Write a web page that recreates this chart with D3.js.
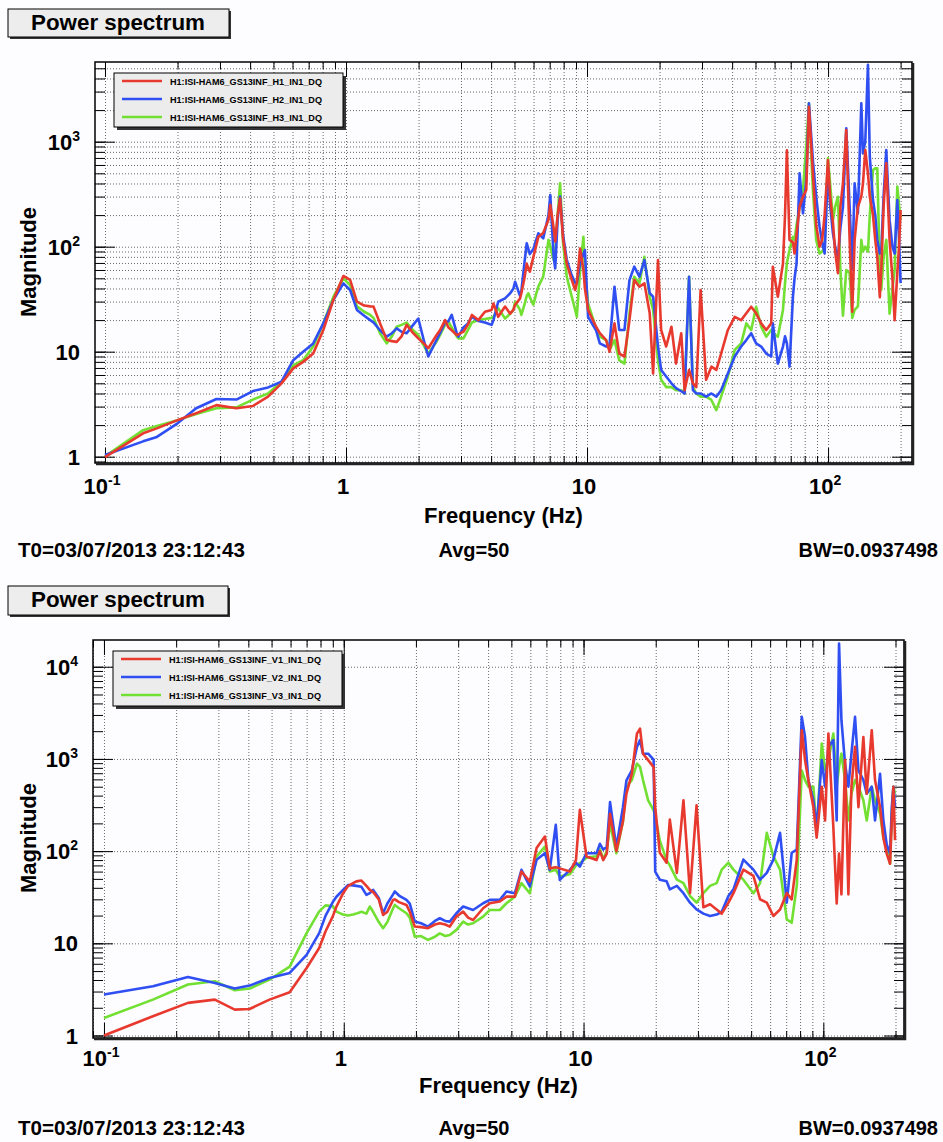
<!DOCTYPE html>
<html>
<head>
<meta charset="utf-8">
<script src="https://cdn.jsdelivr.net/npm/d3@7"></script>
<style>
body { margin: 0; background: #fdfcfe; }
text { font-family: "Liberation Sans", Arial, Helvetica, sans-serif; font-weight: bold; }
</style>
</head>
<body>
<div id="chart"></div>
<script>
// ---- top panel: horizontal GS13 channels ----
var hFreq = [
  0.1, 0.144, 0.163, 0.2, 0.239, 0.29, 0.351, 0.411, 0.475, 0.54,
  0.604, 0.664, 0.731, 0.805, 0.886, 0.975, 1.04, 1.11, 1.19, 1.26,
  1.3, 1.384, 1.475, 1.55, 1.623, 1.7, 1.785, 1.9, 1.995, 2.1,
  2.195, 2.377, 2.455, 2.577, 2.66, 2.745, 2.88, 2.925, 3.07, 3.2,
  3.33, 3.54, 3.77, 4.02, 4.09, 4.28, 4.57, 4.8, 4.95, 5.03,
  5.27, 5.34, 5.5, 5.62, 5.71, 5.79, 5.99, 6.14, 6.28, 6.58,
  6.92, 7.04, 7.27, 7.38, 7.55, 7.73, 7.95, 8.24, 8.6, 8.93,
  9.07, 9.36, 9.66, 9.8, 10.1, 10.9, 11.3, 12.0, 12.4, 13.0,
  13.6, 14.3, 15.0, 15.7, 16.5, 17.3, 18.2, 18.8, 19.7, 20.3,
  21.3, 22.4, 23.4, 24.6, 25.4, 26.5, 27.5, 28.4, 29.6, 31.2,
  32.8, 34.4, 36.0, 38.4, 41.0, 43.6, 45.8, 48.0, 50.3, 52.8,
  55.4, 58.1, 59.0, 61.9, 65.0, 66.3, 67.5, 69.2, 71.5, 72.6,
  74.0, 76.2, 78.7, 81.2, 83.3, 86.5, 89.3, 92.2, 94.5, 96.8,
  99.9, 102, 104.8, 107, 109.9, 112.5, 115.3, 119.0, 122.9, 126.0,
  128.9, 133.0, 137.4, 139.6, 142.7, 146.4, 149.0, 153.6, 157.0, 160.0,
  164.0, 166.3, 170.0, 174.4, 180.0, 185.0, 188.9, 193.8, 197.0, 200.0
];
var hCh1 = [
  0.99, 1.67, 1.85, 2.23, 2.59, 3.1, 2.89, 3.04, 3.73, 4.99,
  6.94, 8.0, 9.6, 16.1, 31, 52.6, 48.2, 30, 27.5, 27,
  26.9, 18.6, 13, 12.6, 12.4, 14, 18, 15, 13.4, 12,
  10.8, 14.4, 16, 20, 17, 16, 14.4, 14.6, 15.5, 18,
  22.4, 20, 24, 25, 28.8, 21.5, 26.9, 23, 25, 28,
  32, 36, 50, 69, 62, 57.8, 80, 100, 124, 135,
  180, 250, 150, 112, 200, 288, 120, 69, 50, 38.7,
  45, 96, 60, 40, 25, 17.3, 15, 12.9, 10, 18.6,
  9.6, 9.0, 20, 48, 41.6, 44.8, 23.2, 6.2, 74.6, 16.1,
  11.2, 17.3, 7.7, 15, 4.3, 6.7, 5.0, 4.6, 38.7, 5.4,
  7.2, 6.7, 9.6, 16.1, 21.5, 20, 23.2, 26.8, 23.2, 18.6,
  16.1, 18.6, 64.5, 33.4, 69, 200, 830, 116, 110, 86,
  130, 240, 300, 347, 2150, 499, 160, 100, 116, 200,
  669, 300, 170, 90, 56, 240, 400, 1290, 116, 24,
  116, 240, 300, 400, 833, 500, 300, 200, 116, 80,
  33, 60, 240, 622, 116, 50, 20, 56, 100, 223
];
var hCh2 = [
  1.04, 1.40, 1.53, 2.08, 2.89, 3.54, 3.5, 4.22, 4.57, 5.18,
  8.3, 10.0, 12.0, 18.6, 31, 44.8, 38.7, 25, 22, 20,
  19, 16, 13.9, 15, 16.7, 15.5, 15, 18, 20.7, 13,
  9.0, 13, 15, 19, 19.5, 22.4, 15, 13.9, 17, 18.5,
  21.5, 19.6, 19, 18, 20, 29.9, 32.2, 36, 40, 46.4,
  34, 38, 70, 108, 95, 85, 95, 115, 134, 120,
  200, 310, 80, 62, 180, 300, 130, 75, 55, 45,
  44.8, 70, 85, 93, 21.5, 16, 12, 11.2, 11.6, 41.6,
  16.1, 16.1, 48, 64.5, 51.8, 74.6, 36, 33.4, 11.2, 6.7,
  5.8, 5.0, 4.5, 4.2, 4.0, 51.8, 4.3, 4.0, 4.0, 3.73,
  4.0, 3.73, 4.3, 6.2, 9.0, 11.2, 12.9, 15, 12, 11.2,
  9.6, 9.0, 18.6, 7.7, 11.2, 14, 12, 7.2, 33.4, 50,
  69, 499, 208, 431, 2320, 669, 299, 155, 110, 86,
  557, 250, 134, 100, 75, 150, 240, 1340, 240, 60,
  401, 208, 2320, 774, 1000, 5400, 720, 278, 200, 116,
  86, 90, 300, 833, 179, 100, 86, 278, 120, 45
];
var hCh3 = [
  1.01, 1.79, 1.95, 2.23, 2.55, 2.89, 2.95, 3.5, 4.0, 5.18,
  7.4, 8.3, 11.2, 18.6, 33.3, 50, 43, 27, 24, 22.4,
  21, 15, 12, 14, 17.3, 18, 18.9, 16, 14.4, 11.5,
  9.6, 12.5, 14.4, 18, 19.3, 17, 14, 13.4, 13.4, 16,
  19, 20, 20.5, 21, 21.5, 26, 20.7, 23, 25, 29.9,
  25, 22.4, 28, 34, 36, 33, 28, 35, 41.6, 51.8,
  116, 100, 75, 90, 200, 401, 110, 51.8, 35, 25,
  21.5, 60, 124, 60, 28.8, 16.7, 13.9, 12.9, 10.4, 12.9,
  8.3, 7.7, 23, 51.8, 44.8, 80, 33.4, 25, 8.3, 5.4,
  4.6, 4.6, 4.3, 4.3, 4.0, 51.8, 4.6, 4.0, 3.73, 3.73,
  3.47, 2.78, 3.73, 5.8, 10.4, 12, 18.6, 16.1, 26.8, 17.3,
  13.9, 16.1, 15, 13.9, 25, 45, 70, 93, 124, 116,
  160, 240, 347, 896, 2320, 347, 116, 86, 90, 100,
  694, 400, 179, 240, 299, 60, 22, 60, 56, 21,
  25, 27, 116, 90, 100, 90, 200, 537, 557, 557,
  60, 39, 80, 116, 23, 40, 60, 373, 250, 179
];
var hNames = ["H1:ISI-HAM6_GS13INF_H1_IN1_DQ", "H1:ISI-HAM6_GS13INF_H2_IN1_DQ", "H1:ISI-HAM6_GS13INF_H3_IN1_DQ"];

// ---- bottom panel: vertical GS13 channels ----
var vFreq = [
  0.1, 0.16, 0.224, 0.29, 0.351, 0.405, 0.49, 0.595, 0.70, 0.79,
  0.84, 0.90, 0.932, 0.994, 1.043, 1.094, 1.129, 1.185, 1.243, 1.284,
  1.326, 1.40, 1.459, 1.52, 1.606, 1.633, 1.7, 1.826, 1.885, 1.978,
  2.1, 2.247, 2.4, 2.515, 2.65, 2.768, 2.951, 3.147, 3.3, 3.463,
  3.813, 4.065, 4.475, 4.772, 5.17, 5.51, 5.97, 6.37, 6.9, 7.23,
  7.66, 7.96, 8.77, 9.3, 9.65, 10.29, 11.33, 11.7, 12.08, 12.5,
  12.9, 13.7, 14.6, 15.1, 15.9, 16.7, 17.2, 17.7, 18.6, 19.6,
  19.9, 20.8, 22.2, 22.9, 24.5, 26.1, 27.8, 29.6, 31.6, 33.7,
  35.9, 37.7, 40.2, 42.2, 46.4, 51.1, 54.5, 58.1, 61.9, 66.0,
  70.4, 73.8, 77.5, 81.3, 83.9, 86.6, 90.9, 93.8, 98.5, 101.7,
  105, 110.1, 113.7, 116.3, 119.0, 123.2, 127.2, 131.0, 135.6, 140.1,
  146.9, 151.7, 159.2, 164.3, 172.4, 178.0, 183.8, 189.8, 193.0, 196.0,
  199.1
];
var vCh1 = [
  1.0, 1.62, 2.26, 2.45, 1.91, 1.94, 2.45, 2.95, 5.4, 8.9,
  13.5, 19.6, 25, 35, 42, 45, 47, 48, 42, 38,
  36, 30, 20.3, 22, 29.6, 30, 28, 26.1, 22, 15.2,
  15, 14.6, 16, 16.5, 16, 15.2, 19.5, 22.1, 19, 17.9,
  24, 27.2, 28.4, 32.1, 32.1, 60.1, 46.8, 108, 144, 65,
  67, 65, 60, 80, 281, 87.5, 80, 100, 80, 94,
  254, 100, 210, 420, 690, 1880, 2130, 1140, 970, 815,
  300, 96, 75, 220, 58, 355, 35, 314, 24.6, 26.5,
  23.3, 21, 27.6, 35, 63, 54, 30, 27.6, 19.8, 23.3,
  35, 30, 81, 2050, 970, 590, 300, 140, 500, 215,
  1890, 182, 27, 94, 34, 970, 34, 500, 1350, 300,
  1730, 420, 2050, 590, 300, 140, 94, 73, 215, 500,
  131
];
var vCh2 = [
  2.78, 3.42, 4.32, 3.72, 3.23, 3.48, 4.2, 4.77, 7.5, 12.9,
  20, 28, 32, 38, 43, 42.5, 42, 41, 33.5, 35,
  38, 31, 21.2, 27, 34, 36.5, 33, 29.6, 27, 17.2,
  16.5, 15.2, 17.5, 18.7, 17.5, 17.2, 21.2, 25.1, 24, 23,
  27.2, 29.6, 29.6, 36.5, 34.9, 62.7, 41.3, 80.5, 95, 62.7,
  193, 48.8, 62.7, 75, 68, 95, 95, 120, 104, 111,
  340, 110, 300, 585, 750, 1350, 1600, 1140, 1140, 980,
  60, 49, 47, 38.5, 42, 35, 27.6, 23.3, 21, 19.8,
  20.5, 22, 32.6, 38.5, 81, 63, 49, 58, 81, 158,
  27.6, 96, 104, 2860, 1730, 590, 356, 182, 970, 500,
  1350, 1600, 215, 17900, 2630, 890, 500, 1140, 2860, 750,
  590, 420, 500, 215, 690, 215, 118, 94, 300, 500,
  300
];
var vCh3 = [
  1.55, 2.45, 3.57, 3.88, 3.1, 3.23, 4.04, 5.6, 12.9, 22.2,
  25.8, 25.2, 22.1, 20.5, 20, 20.5, 21, 22, 21, 25.1,
  22, 17, 14.6, 17, 24, 26.1, 24, 21.2, 19, 11.8,
  12, 10.9, 11.8, 12.8, 12, 12.3, 14, 17.2, 16, 16.5,
  19.5, 23, 23, 27.2, 32.1, 44.9, 34.9, 87.5, 112, 60,
  62.7, 53, 56, 70, 74, 85, 88, 105, 82, 100,
  200, 95, 210, 505, 590, 890, 820, 590, 355, 277,
  240, 130, 80, 70, 49, 45, 32.6, 27.6, 35, 42,
  45, 63, 75, 63, 49, 35, 45, 158, 88, 63,
  18.2, 16.7, 42, 750, 590, 500, 500, 154, 1470, 750,
  970, 1890, 500, 820, 1140, 590, 215, 420, 590, 500,
  356, 215, 500, 356, 255, 140, 110, 73, 255, 500,
  420
];
var vNames = ["H1:ISI-HAM6_GS13INF_V1_IN1_DQ", "H1:ISI-HAM6_GS13INF_V2_IN1_DQ", "H1:ISI-HAM6_GS13INF_V3_IN1_DQ"];

var lineColors = ["#e8392f", "#2f4ff2", "#72e032"];
var xTickLabels = [[0.1, "10", "-1"], [1, "1", ""], [10, "10", ""], [100, "10", "2"]];
var yTickLabelsTop = [[1, "1", ""], [10, "10", ""], [100, "10", "2"], [1000, "10", "3"]];
var yTickLabelsBot = [[1, "1", ""], [10, "10", ""], [100, "10", "2"], [1000, "10", "3"], [10000, "10", "4"]];
var footerTexts = ["T0=03/07/2013 23:12:43", "Avg=50", "BW=0.0937498"];

var W = 943, H = 1142;

var svg = d3.select("#chart").append("svg")
  .attr("width", W)
  .attr("height", H);

svg.append("rect").attr("width", W).attr("height", H).attr("fill", "#fdfcfe");

// 1..9 x 10^k inside a domain (for grid + minor ticks)
function logSteps(dom, majorOnly) {
  var out = [];
  for (var k = -2; k <= 5; k++) {
    for (var m = 1; m <= 9; m++) {
      if (majorOnly && m > 1) continue;
      var v = m * Math.pow(10, k);
      if (v >= dom[0] && v <= dom[1]) out.push(+v.toPrecision(3));
    }
  }
  return out;
}

function addLabel(g, x, y, base, sup, anchor) {
  var t = g.append("text")
    .attr("x", x).attr("y", y)
    .attr("text-anchor", anchor)
    .attr("font-size", 22)
    .attr("fill", "#000");
  t.append("tspan").text(base);
  if (sup) {
    t.append("tspan").attr("dy", -9).attr("font-size", 14).text(sup);
  }
}

function drawPanel(p, id) {
  var g = svg.append("g");
  var x = d3.scaleLog().domain(p.xDom).range([p.x0, p.x1]);
  var y = d3.scaleLog().domain(p.yDom).range([p.y1, p.y0]);
  var w = p.x1 - p.x0, h = p.y1 - p.y0;

  // title box
  g.append("rect").attr("x", p.title[0] + 2).attr("y", p.title[1] + 2)
    .attr("width", p.title[2]).attr("height", p.title[3]).attr("fill", "#333");
  g.append("rect").attr("x", p.title[0]).attr("y", p.title[1])
    .attr("width", p.title[2]).attr("height", p.title[3])
    .attr("fill", "#ededed").attr("stroke", "#000").attr("stroke-width", 1);
  g.append("text").attr("x", p.title[0] + 23).attr("y", p.title[1] + 21)
    .attr("font-size", 22).attr("textLength", 174).attr("lengthAdjust", "spacingAndGlyphs")
    .text("Power spectrum");

  // grid
  var gx = g.append("g").attr("transform", "translate(0," + p.y1 + ")")
    .call(d3.axisBottom(x).tickValues(logSteps(p.xDom, false)).tickSize(-h).tickFormat(""));
  var gy = g.append("g").attr("transform", "translate(" + p.x0 + ",0)")
    .call(d3.axisLeft(y).tickValues(logSteps(p.yDom, !p.yMinorGrid)).tickSize(-w).tickFormat(""));
  [gx, gy].forEach(function(a) {
    a.select(".domain").remove();
    a.selectAll("line").attr("stroke", "#6a6a6a").attr("stroke-width", 1).attr("stroke-dasharray", "1,2");
  });

  // ticks on all four sides
  var xMaj = logSteps(p.xDom, true), xAll = logSteps(p.xDom, false);
  var yMaj = logSteps(p.yDom, true), yAll = logSteps(p.yDom, false);
  var tickAxes = [
    [d3.axisBottom(x).tickValues(xAll).tickSize(-7), "translate(0," + p.y1 + ")"],
    [d3.axisBottom(x).tickValues(xMaj).tickSize(-15), "translate(0," + p.y1 + ")"],
    [d3.axisTop(x).tickValues(xAll).tickSize(-7), "translate(0," + p.y0 + ")"],
    [d3.axisTop(x).tickValues(xMaj).tickSize(-15), "translate(0," + p.y0 + ")"],
    [d3.axisLeft(y).tickValues(yAll).tickSize(-10), "translate(" + p.x0 + ",0)"],
    [d3.axisLeft(y).tickValues(yMaj).tickSize(-20), "translate(" + p.x0 + ",0)"],
    [d3.axisRight(y).tickValues(yAll).tickSize(-10), "translate(" + p.x1 + ",0)"],
    [d3.axisRight(y).tickValues(yMaj).tickSize(-20), "translate(" + p.x1 + ",0)"]
  ];
  tickAxes.forEach(function(t) {
    var a = g.append("g").attr("transform", t[1]).call(t[0].tickFormat(""));
    a.select(".domain").remove();
    a.selectAll("line").attr("stroke", "#000").attr("stroke-width", 1);
  });

  // spectra
  g.append("clipPath").attr("id", "clip" + id).append("rect")
    .attr("x", p.x0).attr("y", p.y0).attr("width", w).attr("height", h);
  var line = d3.line()
    .x(function(d) { return x(d[0]); })
    .y(function(d) { return y(d[1]); });
  var order = [2, 1, 0];
  order.forEach(function(i) {
    var pts = p.freq.map(function(f, j) { return [f, p.series[i][j]]; });
    g.append("path").datum(pts)
      .attr("clip-path", "url(#clip" + id + ")")
      .attr("d", line)
      .attr("fill", "none")
      .attr("stroke", lineColors[i])
      .attr("stroke-width", 2.6)
      .attr("stroke-linejoin", "round");
  });

  // frame
  g.append("rect").attr("x", p.x0).attr("y", p.y0).attr("width", w).attr("height", h)
    .attr("fill", "none").attr("stroke", "#000").attr("stroke-width", 1.5);
  g.append("path")
    .attr("d", "M" + (p.x1 + 1) + "," + (p.y0 + 1) + "V" + (p.y1 + 1) + "H" + (p.x0 + 1))
    .attr("fill", "none").attr("stroke", "#222").attr("stroke-width", 2.5);

  // legend
  var L = p.legend;
  g.append("rect").attr("x", L[0] + 3).attr("y", L[1] + 3).attr("width", L[2]).attr("height", L[3]).attr("fill", "#333");
  g.append("rect").attr("x", L[0]).attr("y", L[1]).attr("width", L[2]).attr("height", L[3])
    .attr("fill", "#ececec").attr("stroke", "#000").attr("stroke-width", 1);
  p.names.forEach(function(n, i) {
    var ry = L[1] + 8 + 18 * i;
    g.append("line").attr("x1", L[0] + 8).attr("x2", L[0] + 48).attr("y1", ry).attr("y2", ry)
      .attr("stroke", lineColors[i]).attr("stroke-width", 2.4);
    g.append("text").attr("x", L[0] + 56).attr("y", ry + 3.5)
      .attr("font-size", 9).attr("textLength", 152).attr("lengthAdjust", "spacingAndGlyphs")
      .text(n);
  });

  // tick labels
  xTickLabels.forEach(function(t) {
    addLabel(g, x(t[0]) - 3, p.xLabY, t[1], t[2], "middle");
  });
  p.yLabels.forEach(function(t) {
    addLabel(g, p.x0 - 15, y(t[0]) + 8, t[1], t[2], "end");
  });

  // axis titles
  g.append("text").attr("x", (p.x0 + p.x1) / 2).attr("y", p.xTitleY)
    .attr("text-anchor", "middle").attr("font-size", 22).text("Frequency (Hz)");
  g.append("text").attr("transform", "translate(36," + p.yTitleC + ") rotate(-90)")
    .attr("text-anchor", "middle").attr("font-size", 22).text("Magnitude");

  // footer
  g.append("text").attr("x", 18).attr("y", p.footY).attr("font-size", 20)
    .attr("textLength", 227).attr("lengthAdjust", "spacingAndGlyphs").text(footerTexts[0]);
  g.append("text").attr("x", 474).attr("y", p.footY).attr("font-size", 20)
    .attr("text-anchor", "middle").text(footerTexts[1]);
  g.append("text").attr("x", 938).attr("y", p.footY).attr("font-size", 20)
    .attr("text-anchor", "end").text(footerTexts[2]);
}

drawPanel({
  x0: 95, x1: 912, y0: 62, y1: 463,
  xDom: [0.0909, 223], yDom: [0.871, 5740], yMinorGrid: true,
  freq: hFreq, series: [hCh1, hCh2, hCh3], names: hNames,
  title: [8, 9, 221, 28], legend: [114, 73, 229, 54],
  yLabels: yTickLabelsTop, xLabY: 494, xTitleY: 523, yTitleC: 262, footY: 557
}, "top");

drawPanel({
  x0: 93, x1: 904, y0: 640, y1: 1038,
  xDom: [0.090, 217], yDom: [0.94, 19500], yMinorGrid: false,
  freq: vFreq, series: [vCh1, vCh2, vCh3], names: vNames,
  title: [8, 586, 220, 29], legend: [113, 651, 229, 55],
  yLabels: yTickLabelsBot, xLabY: 1066, xTitleY: 1093, yTitleC: 838, footY: 1135
}, "bot");
</script>
</body>
</html>
